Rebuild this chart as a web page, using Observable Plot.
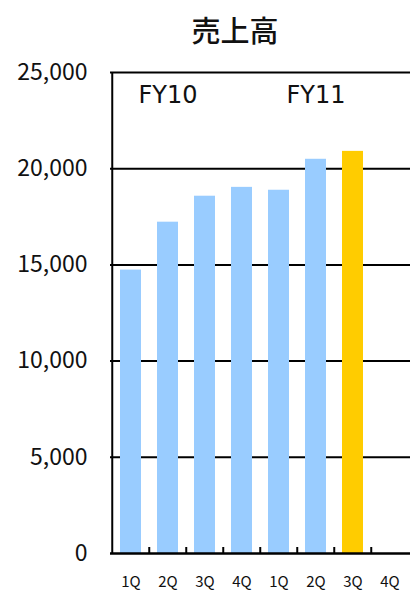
<!DOCTYPE html>
<html>
<head>
<meta charset="utf-8">
<script src="https://cdn.jsdelivr.net/npm/d3@7"></script>
<script src="https://cdn.jsdelivr.net/npm/@observablehq/plot@0.6"></script>
<style>
  html, body { margin: 0; padding: 0; background: #fff; }
  #wrap { position: relative; width: 410px; height: 590px; font-family: "Noto Sans CJK JP", sans-serif; }
  #title { position: absolute; left: 135px; width: 200px; top: 9px; text-align: center; font-size: 29px; font-weight: 500; color: #111; line-height: 40px; }
  #chart { position: absolute; left: 0; top: 50px; }
</style>
</head>
<body>
<div id="wrap">
  <div id="title">売上高</div>
  <div id="chart"></div>
</div>
<script>
const categories = ["FY10-1Q","FY10-2Q","FY10-3Q","FY10-4Q","FY11-1Q","FY11-2Q","FY11-3Q","FY11-4Q"];
const quarterLabels = ["1Q","2Q","3Q","4Q","1Q","2Q","3Q","4Q"];
const sales = [14730, 17220, 18570, 19030, 18880, 20490, 20900, null];
const highlighted = "FY11-3Q";
const yTicks = [0, 5000, 10000, 15000, 20000, 25000];
const fyLabels = ["FY10", "FY11"];
const fyAt = ["FY10-2Q", "FY11-2Q"];
const fyLabelY = 23800;

const data = categories.map((c, i) => ({cat: c, q: quarterLabels[i], v: sales[i]}));
const barData = data.filter(d => d.v != null);
const fyData = fyLabels.map((t, i) => ({t, x: fyAt[i], y: fyLabelY}));

const W = 410, mL = 110, mR = 0;
const bandW = (W - mL - mR) / categories.length;

const plot = Plot.plot({
  width: W,
  height: 540,
  marginTop: 22,
  marginBottom: 37,
  marginLeft: mL,
  marginRight: mR,
  style: {fontFamily: "'Noto Sans CJK JP', sans-serif", background: "#fff", color: "#111"},
  x: {domain: categories, paddingInner: 0.44, paddingOuter: 0.22, label: null},
  y: {domain: [0, 25000], label: null},
  marks: [
    Plot.ruleY(yTicks.filter(v => v > 0), {stroke: "#000", strokeWidth: 2}),
    Plot.barY(barData, {x: "cat", y: "v", fill: d => d.cat === highlighted ? "#FFCC00" : "#99CCFF"}),
    Plot.axisY({ticks: yTicks, tickSize: 0, tickPadding: 23, tickFormat: d3.format(","), fontSize: 23, label: null}),
    Plot.axisX({tickSize: 0, tickPadding: 23, tickFormat: d => quarterLabels[categories.indexOf(d)], fontSize: 15, label: null}),
    Plot.ruleX(categories.slice(1), {x: d => d, y1: 0, y2: 0, dx: -bandW / 2, insetTop: -6, stroke: "#000", strokeWidth: 2}),
    Plot.ruleY([0], {stroke: "#000", strokeWidth: 2.5}),
    Plot.ruleX([categories[0]], {x: d => d, dx: -bandW / 2, y1: 0, y2: 25000, stroke: "#000", strokeWidth: 2}),
    Plot.text(fyData, {x: "x", y: "y", text: "t", fontSize: 24, fontFamily: "DejaVu Sans", fill: "#111"})
  ]
});
document.getElementById("chart").appendChild(plot);
</script>
</body>
</html>
